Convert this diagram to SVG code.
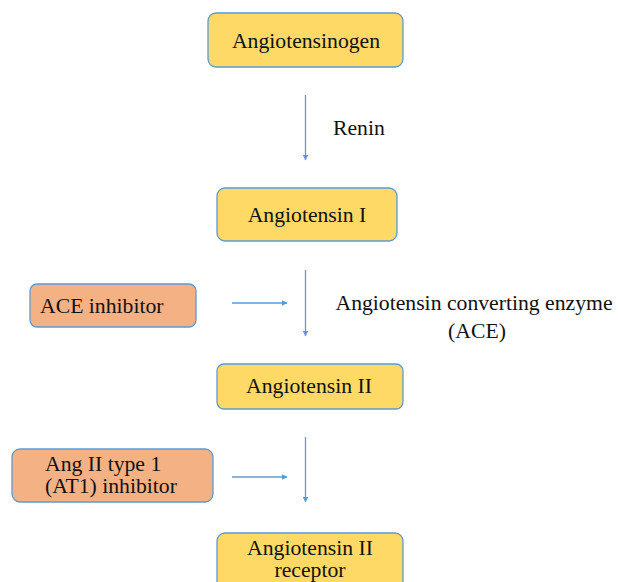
<svg xmlns="http://www.w3.org/2000/svg" width="618" height="582" viewBox="0 0 618 582" font-family="'Liberation Serif', 'DejaVu Serif', serif">
<defs>
<style>
.yel{fill:#FFD966;stroke:#5B9BD5;stroke-width:1.3}
.org{fill:#F4B183;stroke:#5B9BD5;stroke-width:1.3}
text{font-family:'Liberation Serif','DejaVu Serif',serif;font-size:21.7px;fill:#111}
.c{text-anchor:middle}
.ln{stroke:#5B9BD5;stroke-width:1.3;fill:none;marker-end:url(#ah)}
</style>
<marker id="ah" viewBox="0 0 10 10" refX="9" refY="5" markerWidth="6" markerHeight="6" markerUnits="userSpaceOnUse" orient="auto">
<path d="M0,0 L10,5 L0,10 z" fill="#5B9BD5"/>
</marker>
</defs>
<rect width="618" height="582" fill="#fff"/>
<g id="connectors">
<line class="ln" x1="305.5" y1="95" x2="305.5" y2="160"/>
<line class="ln" x1="305.5" y1="270" x2="305.5" y2="336"/>
<line class="ln" x1="305.5" y1="437" x2="305.5" y2="502"/>
<line class="ln" x1="232" y1="303" x2="287" y2="303"/>
<line class="ln" x1="232" y1="477" x2="287" y2="477"/>
<text x="333" y="135">Renin</text>
<text x="474" y="310" class="c">Angiotensin converting enzyme</text>
<text x="477" y="338" class="c">(ACE)</text>
</g>
<g id="angiotensinogen">
<rect class="yel" x="208" y="13" width="195" height="54" rx="8"/>
<text x="306" y="48" class="c">Angiotensinogen</text>
</g>
<g id="angiotensin-1">
<rect class="yel" x="217" y="188" width="180" height="53" rx="8"/>
<text x="307" y="222" class="c">Angiotensin I</text>
</g>
<g id="ace-inhibitor">
<rect class="org" x="30" y="284" width="166" height="43" rx="7"/>
<text x="40" y="313">ACE inhibitor</text>
</g>
<g id="angiotensin-2">
<rect class="yel" x="217" y="364" width="186" height="45" rx="7"/>
<text x="309" y="393" class="c">Angiotensin II</text>
</g>
<g id="at1-inhibitor">
<rect class="org" x="12" y="449" width="201" height="53" rx="8"/>
<text x="45" y="471">Ang II type 1</text>
<text x="45" y="493">(AT1) inhibitor</text>
</g>
<g id="angiotensin-2-receptor">
<rect class="yel" x="217" y="533" width="186" height="60" rx="8"/>
<text x="310" y="555" class="c">Angiotensin II</text>
<text x="310" y="577" class="c">receptor</text>
</g>
</svg>
